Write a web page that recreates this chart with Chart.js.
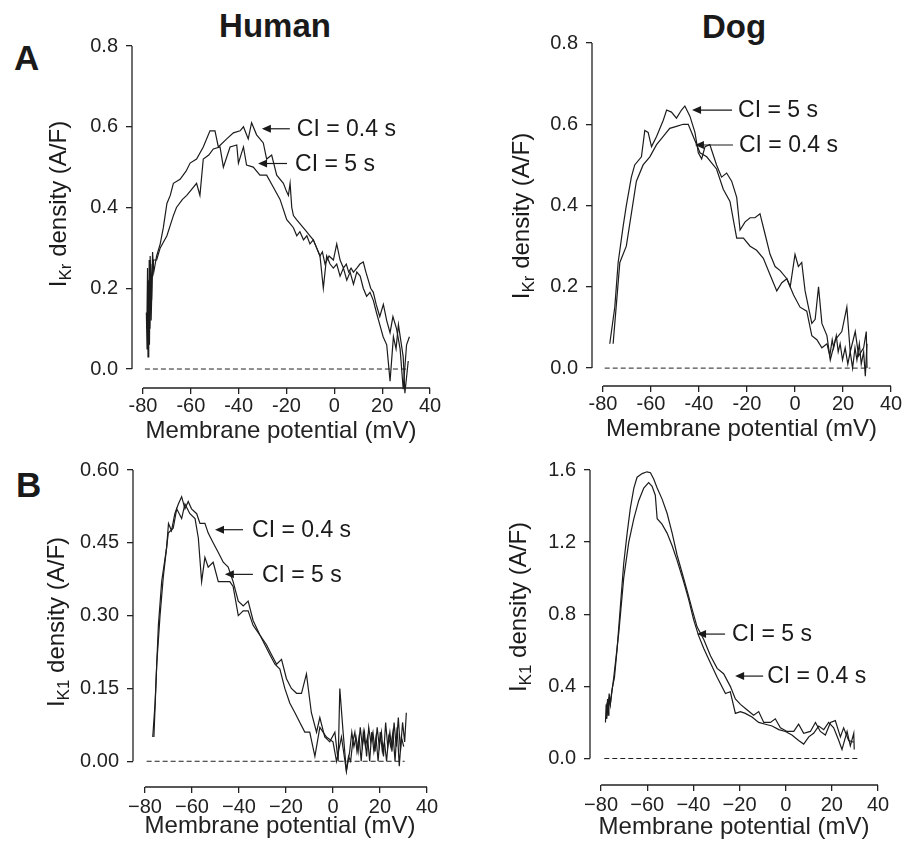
<!DOCTYPE html>
<html>
<head>
<meta charset="utf-8">
<script src="https://cdn.jsdelivr.net/npm/chart.js@4.4.1/dist/chart.umd.min.js"></script>
<style>
  body { margin: 0; background: #fff; }
  #page { position: relative; width: 904px; height: 850px; font-family: Arial, "Liberation Sans", sans-serif; color: #1a1a1a; }
  canvas { position: absolute; }
  .lbl { position: absolute; font-weight: bold; line-height: 1; white-space: nowrap; }
  .ytitle { position: absolute; font-size: 24px; line-height: 1; white-space: nowrap; transform: translate(-50%, -50%) rotate(-90deg); }
  .ytitle sub { font-size: 17px; vertical-align: -5px; }
</style>
</head>
<body>
<div id="page">
  <div class="lbl" style="left:275px;top:9px;font-size:33px;transform:translateX(-50%)">Human</div>
  <div class="lbl" style="left:734px;top:10px;font-size:33px;transform:translateX(-50%)">Dog</div>
  <div class="lbl" style="left:14px;top:40px;font-size:35px">A</div>
  <div class="lbl" style="left:16px;top:467px;font-size:35px">B</div>

  <canvas id="aHuman" width="450" height="450" style="left:0;top:0"></canvas>
  <canvas id="aDog" width="454" height="450" style="left:450px;top:0"></canvas>
  <canvas id="bHuman" width="450" height="400" style="left:0;top:450px"></canvas>
  <canvas id="bDog" width="454" height="400" style="left:450px;top:450px"></canvas>

  <div class="ytitle" style="left:60px;top:204px">I<sub>Kr</sub> density (A/F)</div>
  <div class="ytitle" style="left:523px;top:216px">I<sub>Kr</sub> density (A/F)</div>
  <div class="ytitle" style="left:58px;top:622px">I<sub>K1</sub> density (A/F)</div>
  <div class="ytitle" style="left:520px;top:607px">I<sub>K1</sub> density (A/F)</div>
</div>

<script>
const FONT = 'Arial, "Liberation Sans", sans-serif';

// axis ticks
const xTicks = [-80, -60, -40, -20, 0, 20, 40];
const krTicks = [0, 0.2, 0.4, 0.6, 0.8];
const k1HumanTicks = [0, 0.15, 0.30, 0.45, 0.60];
const k1DogTicks = [0, 0.4, 0.8, 1.2, 1.6];

// A, human IKr
const humanKr04X = [-78.6,-78.3,-78.0,-77.7,-77.4,-77.1,-76.8,-76.4,-76.0,-75.5,-74.3,-72.8,-71.5,-70.0,-68.6,-67.3,-64.5,-62.0,-60.3,-57.6,-54.8,-52.0,-49.9,-48.5,-45.0,-42.2,-39.4,-38.0,-36.0,-34.6,-32.5,-29.7,-28.3,-26.2,-24.1,-21.3,-20.0,-19.2,-18.5,-17.8,-17.1,-15.8,-14.4,-13.0,-11.6,-10.2,-8.8,-7.4,-6.0,-5.0,-3.9,-2.2,-0.4,1.0,2.4,3.8,5.0,6.0,7.0,8.0,9.4,10.7,12.1,13.2,14.2,15.2,16.3,17.5,19.0,20.5,21.9,23.3,24.5,26.0,27.5,28.8,30.2,31.4];
const humanKr04Y = [0.14,0.05,0.22,0.08,0.27,0.10,0.26,0.17,0.29,0.24,0.28,0.31,0.35,0.41,0.43,0.46,0.47,0.49,0.51,0.52,0.55,0.59,0.59,0.55,0.57,0.585,0.59,0.60,0.57,0.61,0.58,0.56,0.52,0.53,0.48,0.46,0.44,0.43,0.46,0.40,0.38,0.37,0.36,0.35,0.34,0.33,0.32,0.30,0.28,0.29,0.26,0.28,0.27,0.31,0.27,0.25,0.26,0.24,0.25,0.24,0.25,0.26,0.265,0.24,0.22,0.20,0.19,0.16,0.13,0.16,0.12,0.09,0.13,0.10,0.05,-0.05,0.06,0.08];
const humanKr5X = [-78.4,-78.1,-77.9,-77.6,-77.3,-77.0,-76.6,-76.2,-75.6,-74.3,-72.8,-70.0,-67.3,-66.0,-63.5,-61.7,-57.6,-56.2,-54.8,-52.5,-50.6,-47.8,-46.4,-43.6,-40.8,-40.1,-38.0,-36.7,-33.9,-31.1,-28.3,-25.5,-22.7,-19.9,-18.5,-17.1,-15.7,-14.4,-12.9,-11.5,-10.2,-8.8,-7.4,-6.0,-4.6,-3.2,-1.8,-0.4,1.0,2.4,3.8,5.2,6.6,8.0,9.4,10.8,12.1,13.5,14.9,16.3,17.6,19.0,20.4,21.9,23.3,24.7,25.8,26.8,28.8,29.5,30.9];
const humanKr5Y = [0.10,0.25,0.03,0.20,0.06,0.28,0.12,0.22,0.27,0.27,0.30,0.33,0.38,0.40,0.42,0.43,0.46,0.43,0.52,0.53,0.545,0.55,0.50,0.55,0.555,0.51,0.55,0.505,0.50,0.48,0.48,0.45,0.42,0.37,0.36,0.35,0.33,0.34,0.32,0.33,0.31,0.32,0.30,0.28,0.20,0.28,0.26,0.25,0.26,0.23,0.25,0.22,0.24,0.21,0.24,0.23,0.20,0.18,0.19,0.17,0.14,0.11,0.08,0.06,-0.03,0.08,0.05,0.11,0.03,-0.06,0.02];

// A, dog IKr
const dogKr5X = [-77.2,-75.1,-73.7,-71.6,-70.3,-68.2,-66.8,-64.0,-62.6,-61.2,-59.8,-57.7,-54.9,-53.5,-51.5,-49.4,-47.3,-45.9,-43.8,-41.7,-40.3,-38.9,-37.5,-35.5,-32.7,-30.6,-28.5,-26.4,-24.3,-22.9,-20.8,-18.7,-16.7,-14.6,-12.5,-10.4,-8.3,-6.2,-3.4,-2.0,0.0,1.4,2.8,4.2,5.6,7.0,8.4,9.8,11.2,13.3,14.7,16.8,19.5,21.6,23.0,25.1,26.5,28.6,29.7,30.0];
const dogKr5Y = [0.06,0.15,0.26,0.35,0.40,0.47,0.50,0.52,0.585,0.58,0.545,0.57,0.61,0.635,0.63,0.615,0.635,0.645,0.62,0.58,0.53,0.515,0.545,0.55,0.50,0.47,0.48,0.46,0.42,0.34,0.36,0.37,0.37,0.38,0.33,0.28,0.25,0.24,0.22,0.20,0.28,0.25,0.26,0.19,0.15,0.11,0.12,0.20,0.11,0.08,0.02,0.07,0.09,0.15,0.04,0.09,0.03,0.05,0.09,0.00];
const dogKr04X = [-75.8,-74.4,-73.0,-70.3,-68.2,-66.1,-63.3,-60.5,-57.7,-54.9,-52.2,-49.4,-46.6,-44.5,-42.4,-39.6,-36.8,-32.7,-29.9,-27.1,-24.3,-21.5,-18.7,-16.0,-13.2,-10.4,-7.6,-5.5,-3.4,-0.6,2.1,4.9,7.0,9.1,11.2,13.3,14.5,15.5,16.1,17.2,18.0,18.8,19.8,20.9,22.0,23.0,24.0,25.0,25.8,26.8,27.6,28.6,29.3,30.0];
const dogKr04Y = [0.06,0.16,0.26,0.30,0.38,0.46,0.50,0.52,0.55,0.57,0.59,0.595,0.60,0.60,0.57,0.53,0.52,0.49,0.44,0.41,0.32,0.32,0.30,0.29,0.27,0.23,0.19,0.21,0.22,0.18,0.15,0.14,0.08,0.07,0.05,0.06,0.03,0.07,0.05,0.08,0.04,0.06,0.02,0.05,0.01,0.04,0.00,0.05,0.02,0.06,0.01,0.04,-0.02,0.06];

// B, human IK1
const humanK104X = [-76.7,-75.7,-74.3,-72.9,-70.8,-70.0,-68.7,-67.3,-65.8,-64.4,-63.0,-61.6,-60.2,-58.0,-56.6,-54.5,-53.1,-51.0,-48.8,-46.7,-44.6,-42.5,-40.3,-38.2,-36.1,-34.0,-31.1,-28.3,-26.2,-24.0,-21.9,-19.8,-17.7,-15.5,-13.4,-11.3,-9.2,-7.0,-5.6,-3.5,-1.4,0.8,2.2,2.9,4.3,5.7,7.1,8.0,8.9,9.8,10.7,11.6,12.5,13.4,14.3,15.2,16.1,17.0,17.9,18.8,19.7,20.6,21.5,22.4,23.3,24.2,25.1,26.0,26.9,27.8,28.7,29.6,30.5,31.2];
const humanK104Y = [0.05,0.12,0.28,0.37,0.44,0.49,0.475,0.51,0.53,0.545,0.52,0.535,0.52,0.51,0.49,0.49,0.47,0.45,0.43,0.41,0.40,0.37,0.33,0.32,0.33,0.29,0.26,0.24,0.22,0.20,0.21,0.17,0.15,0.14,0.14,0.18,0.10,0.06,0.09,0.05,0.04,0.06,0.00,0.15,0.06,-0.02,0.02,0.06,0.03,0.05,0.02,0.07,0.03,0.06,0.01,0.07,0.04,0.06,0.02,0.07,0.03,0.06,0.01,0.08,0.03,0.06,0.02,0.08,0.03,0.09,0.02,0.08,0.04,0.10];
const humanK15X = [-76.2,-75.0,-73.6,-72.2,-70.1,-68.0,-66.5,-64.4,-63.0,-60.9,-58.7,-57.3,-55.9,-54.5,-53.1,-51.0,-48.8,-46.7,-43.9,-42.5,-40.3,-38.2,-36.1,-34.0,-31.1,-29.0,-26.9,-24.7,-22.6,-20.5,-18.4,-16.2,-14.1,-12.0,-9.9,-7.7,-5.6,-2.8,0.0,1.5,3.6,5.7,6.6,7.5,8.4,9.3,10.2,11.1,12.0,12.9,13.8,14.7,15.6,16.5,17.4,18.3,19.2,20.1,21.0,21.9,22.8,23.7,24.6,25.5,26.4,27.3,28.2,29.1,30.1];
const humanK15Y = [0.05,0.20,0.30,0.38,0.47,0.48,0.52,0.50,0.53,0.51,0.50,0.46,0.37,0.42,0.40,0.41,0.37,0.37,0.37,0.36,0.30,0.31,0.31,0.28,0.26,0.24,0.22,0.20,0.19,0.15,0.12,0.10,0.08,0.06,0.06,0.01,0.07,0.05,0.04,0.00,0.05,-0.02,0.01,0.00,0.04,0.06,0.02,0.05,0.00,0.06,0.03,0.05,0.00,0.06,0.02,0.05,0.00,0.06,0.02,0.04,0.00,0.05,0.03,0.06,0.00,0.07,-0.01,0.05,0.03];

// B, dog IK1
const dogK15X = [-78.1,-77.8,-77.5,-77.2,-76.9,-76.5,-76.0,-75.3,-74.2,-73.1,-71.6,-70.2,-68.7,-67.3,-65.8,-64.4,-62.2,-60.1,-58.6,-57.2,-55.7,-53.6,-51.4,-49.2,-47.1,-44.9,-42.7,-40.6,-38.4,-35.5,-32.6,-29.7,-26.9,-24.0,-21.8,-19.6,-16.8,-13.9,-11.7,-9.5,-6.6,-4.5,-2.3,0.6,3.5,5.6,7.8,10.7,12.9,15.0,17.2,19.4,21.5,23.7,25.1,27.3,29.5];
const dogK15Y = [0.20,0.30,0.22,0.33,0.26,0.36,0.30,0.38,0.45,0.60,0.85,1.08,1.25,1.39,1.50,1.56,1.58,1.59,1.585,1.55,1.50,1.44,1.36,1.25,1.13,1.03,0.93,0.83,0.73,0.66,0.57,0.50,0.47,0.40,0.33,0.30,0.27,0.24,0.26,0.20,0.20,0.22,0.17,0.15,0.15,0.19,0.14,0.15,0.20,0.15,0.13,0.20,0.21,0.12,0.17,0.10,0.09];
const dogK104X = [-77.7,-77.4,-77.0,-76.6,-76.0,-75.3,-74.5,-72.3,-70.2,-68.0,-65.8,-63.7,-61.5,-59.4,-57.9,-56.5,-55.7,-53.6,-51.4,-49.2,-47.1,-44.2,-42.0,-39.9,-37.7,-35.5,-32.6,-29.7,-26.1,-24.0,-21.8,-19.6,-17.5,-14.6,-11.7,-8.8,-5.9,-3.0,-0.1,2.7,5.6,7.8,10.0,12.1,14.3,16.5,18.6,20.8,23.0,24.4,26.6,28.0,29.5,29.7];
const dogK104Y = [0.22,0.31,0.24,0.34,0.30,0.37,0.45,0.70,1.00,1.20,1.33,1.43,1.50,1.53,1.51,1.46,1.33,1.30,1.25,1.18,1.10,0.98,0.88,0.77,0.68,0.61,0.53,0.45,0.36,0.37,0.25,0.26,0.25,0.23,0.20,0.19,0.18,0.16,0.15,0.13,0.10,0.08,0.12,0.14,0.18,0.16,0.20,0.17,0.10,0.05,0.15,0.07,0.14,0.05];

// dashed zero lines (start / end in mV)
const humanKrZeroX = [-79.2, 30.9];
const dogKrZeroX = [-79.3, 31.4];
const humanK1ZeroX = [-79.3, 30.5];
const dogK1ZeroX = [-78.6, 31.2];

// arrow annotations (tip in data units)
const humanKrNotes = [
  { x: -30.3, y: 0.595, text: 'CI = 0.4 s', len: 28, gap: 7 },
  { x: -31.9, y: 0.509, text: 'CI = 5 s', len: 29, gap: 8 },
];
const dogKrNotes = [
  { x: -42.9, y: 0.635, text: 'CI = 5 s', len: 40, gap: 6 },
  { x: -41.7, y: 0.549, text: 'CI = 0.4 s', len: 38, gap: 6 },
];
const humanK1Notes = [
  { x: -50.2, y: 0.477, text: 'CI = 0.4 s', len: 28, gap: 9 },
  { x: -46.0, y: 0.385, text: 'CI = 5 s', len: 28, gap: 9 },
];
const dogK1Notes = [
  { x: -38.4, y: 0.69, text: 'CI = 5 s', len: 28, gap: 7 },
  { x: -21.9, y: 0.457, text: 'CI = 0.4 s', len: 28, gap: 4 },
];

// draws the detached axis lines and the arrow labels
const axesAndNotes = {
  id: 'axesAndNotes',
  afterDatasetsDraw(chart, args, opts) {
    const { ctx, chartArea, scales: { x, y } } = chart;
    ctx.save();
    ctx.strokeStyle = '#222';
    ctx.lineWidth = 1.3;
    ctx.beginPath();
    ctx.moveTo(chartArea.left, y.getPixelForValue(y.max));
    ctx.lineTo(chartArea.left, y.getPixelForValue(0));
    ctx.moveTo(x.getPixelForValue(xTicks[0]), chartArea.bottom);
    ctx.lineTo(x.getPixelForValue(xTicks[xTicks.length - 1]), chartArea.bottom);
    ctx.stroke();

    ctx.fillStyle = '#1a1a1a';
    ctx.strokeStyle = '#1a1a1a';
    ctx.lineWidth = 1.2;
    ctx.font = '23px ' + FONT;
    ctx.textBaseline = 'middle';
    ctx.textAlign = 'left';
    (opts.notes || []).forEach((n) => {
      const px = x.getPixelForValue(n.x);
      const py = y.getPixelForValue(n.y);
      ctx.beginPath();
      ctx.moveTo(px + 6, py);
      ctx.lineTo(px + n.len, py);
      ctx.stroke();
      ctx.beginPath();
      ctx.moveTo(px, py);
      ctx.lineTo(px + 9, py - 4);
      ctx.lineTo(px + 9, py + 4);
      ctx.closePath();
      ctx.fill();
      ctx.fillText(n.text, px + n.len + n.gap, py + 1);
    });
    ctx.restore();
  },
};

const minusFmt = (v) => (v < 0 ? '\u2212' + Math.abs(v) : String(v));
const hyphenFmt = (v) => String(v);

function makePanel(id, cfg) {
  const datasets = cfg.traces.map((t) => ({
    data: t.x.map((v, i) => ({ x: v, y: t.y[i] })),
    showLine: true,
    borderColor: '#1c1c1c',
    borderWidth: 1.2,
    pointRadius: 0,
    tension: 0,
    clip: false,
  }));
  datasets.push({
    data: cfg.zeroX.map((v) => ({ x: v, y: 0 })),
    showLine: true,
    borderColor: '#222',
    borderWidth: 1,
    borderDash: [5, 3],
    pointRadius: 0,
  });

  const grid = { drawOnChartArea: false, drawTicks: true, tickLength: 6, color: '#222', lineWidth: 1.3 };

  new Chart(document.getElementById(id), {
    type: 'scatter',
    data: { datasets },
    options: {
      responsive: false,
      animation: false,
      devicePixelRatio: 1,
      layout: { padding: cfg.pad },
      plugins: {
        legend: { display: false },
        tooltip: { enabled: false },
        axesAndNotes: { notes: cfg.notes },
      },
      scales: {
        x: {
          type: 'linear',
          min: cfg.xMin,
          max: xTicks[xTicks.length - 1],
          afterBuildTicks: (s) => { s.ticks = xTicks.map((v) => ({ value: v })); },
          afterFit: (s) => { s.height = cfg.xHeight; },
          border: { display: false },
          grid,
          ticks: {
            autoSkip: false,
            maxRotation: 0,
            padding: cfg.xTickPad,
            color: '#222',
            font: { size: 20, family: FONT },
            callback: (v) => cfg.xFmt(v),
          },
          title: {
            display: true,
            text: 'Membrane potential (mV)',
            color: '#222',
            font: { size: 24, family: FONT },
            padding: 0,
          },
        },
        y: {
          type: 'linear',
          min: cfg.yMin,
          max: cfg.yTicks[cfg.yTicks.length - 1],
          afterBuildTicks: (s) => { s.ticks = cfg.yTicks.map((v) => ({ value: v })); },
          afterFit: (s) => { s.width = cfg.yWidth; },
          border: { display: false },
          grid,
          ticks: {
            autoSkip: false,
            padding: 8,
            color: '#222',
            font: { size: 20, family: FONT },
            callback: (v) => Number(v).toFixed(cfg.yDec),
          },
        },
      },
    },
    plugins: [axesAndNotes],
  });
}

makePanel('aHuman', {
  traces: [{ x: humanKr04X, y: humanKr04Y }, { x: humanKr5X, y: humanKr5Y }],
  zeroX: humanKrZeroX, notes: humanKrNotes,
  yTicks: krTicks, yDec: 1, xFmt: hyphenFmt,
  xMin: -84.6, yMin: -0.047,
  pad: { top: 46, right: 20, bottom: 4, left: 0 }, yWidth: 132, xHeight: 58, xTickPad: 0,
});
makePanel('aDog', {
  traces: [{ x: dogKr5X, y: dogKr5Y }, { x: dogKr04X, y: dogKr04Y }],
  zeroX: dogKrZeroX, notes: dogKrNotes,
  yTicks: krTicks, yDec: 1, xFmt: hyphenFmt,
  xMin: -84.6, yMin: -0.044,
  pad: { top: 43, right: 13, bottom: 6, left: 0 }, yWidth: 142, xHeight: 58, xTickPad: 0,
});
makePanel('bHuman', {
  traces: [{ x: humanK104X, y: humanK104Y }, { x: humanK15X, y: humanK15Y }],
  zeroX: humanK1ZeroX, notes: humanK1Notes,
  yTicks: k1HumanTicks, yDec: 2, xFmt: minusFmt,
  xMin: -85.1, yMin: -0.053,
  pad: { top: 18, right: 23, bottom: 9, left: 0 }, yWidth: 133, xHeight: 54, xTickPad: 2,
});
makePanel('bDog', {
  traces: [{ x: dogK15X, y: dogK15Y }, { x: dogK104X, y: dogK104Y }],
  zeroX: dogK1ZeroX, notes: dogK1Notes,
  yTicks: k1DogTicks, yDec: 1, xFmt: minusFmt,
  xMin: -84.8, yMin: -0.147,
  pad: { top: 14, right: 26, bottom: 8, left: 0 }, yWidth: 140, xHeight: 57, xTickPad: 2,
});
</script>
</body>
</html>
